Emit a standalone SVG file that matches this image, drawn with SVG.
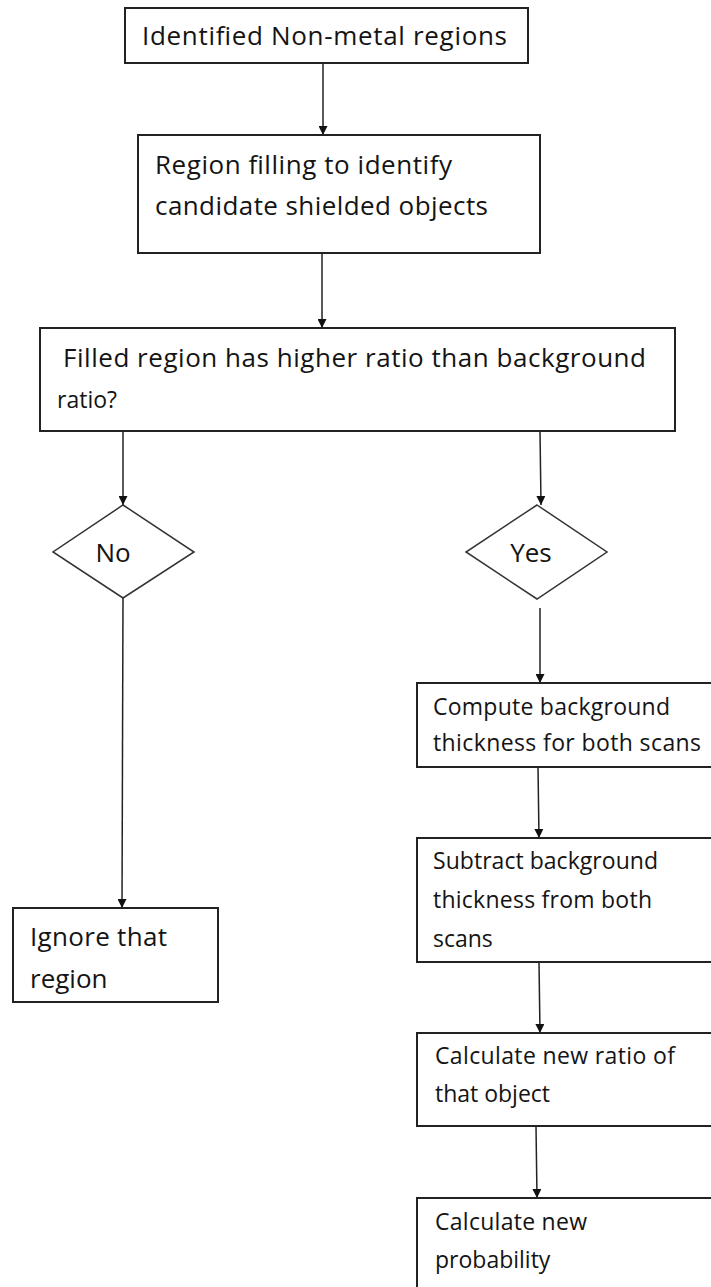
<svg xmlns="http://www.w3.org/2000/svg" width="711" height="1287" viewBox="0 0 711 1287">
  <style>
    .box { fill: #fff; stroke: #222; stroke-width: 2; }
    .dia { fill: #fff; stroke: #333; stroke-width: 1.5; }
    .lbl { font-family: "Open Sans", Lato, "Liberation Sans", sans-serif; font-size: 23px; fill: #141414; }
    .big { font-size: 26px; }
    .wire { stroke: #222; stroke-width: 1.5; fill: none; }
  </style>
  <defs>
    <marker id="arr" viewBox="0 0 10 10" refX="10" refY="5" markerWidth="9" markerHeight="9" markerUnits="userSpaceOnUse" orient="auto">
      <path d="M0,0 L10,5 L0,10 Z" fill="#111"/>
    </marker>
  </defs>
  <rect width="711" height="1287" fill="#fff"/>

  <g id="connectors">
    <line class="wire" x1="323" y1="63" x2="323" y2="135" marker-end="url(#arr)"/>
    <line class="wire" x1="322" y1="253" x2="322" y2="328" marker-end="url(#arr)"/>
    <line class="wire" x1="123" y1="431" x2="123" y2="505" marker-end="url(#arr)"/>
    <line class="wire" x1="540" y1="431" x2="541" y2="505" marker-end="url(#arr)"/>
    <line class="wire" x1="123" y1="598" x2="122" y2="908" marker-end="url(#arr)"/>
    <line class="wire" x1="540" y1="608" x2="540" y2="683" marker-end="url(#arr)"/>
    <line class="wire" x1="538" y1="767" x2="539" y2="838" marker-end="url(#arr)"/>
    <line class="wire" x1="539" y1="962" x2="540" y2="1033" marker-end="url(#arr)"/>
    <line class="wire" x1="536" y1="1126" x2="537" y2="1198" marker-end="url(#arr)"/>
  </g>

  <g id="n-identified">
    <rect class="box" x="125" y="8" width="403" height="55"/>
    <text class="lbl big" x="142" y="45" textLength="365" lengthAdjust="spacing">Identified Non-metal  regions</text>
  </g>

  <g id="n-region-filling">
    <rect class="box" x="138" y="135" width="402" height="118"/>
    <text class="lbl big" x="155" y="174" textLength="297" lengthAdjust="spacing">Region filling to identify</text>
    <text class="lbl big" x="155" y="215" textLength="333" lengthAdjust="spacing">candidate shielded objects</text>
  </g>

  <g id="n-ratio-check">
    <rect class="box" x="40" y="328" width="635" height="103"/>
    <text class="lbl big" x="63" y="367" textLength="583" lengthAdjust="spacing">Filled region has higher ratio than background</text>
    <text class="lbl" x="57" y="408">ratio?</text>
  </g>

  <g id="n-no">
    <polygon class="dia" points="123,505 194,552 123,598 53,552"/>
    <text class="lbl big" x="113" y="562" text-anchor="middle">No</text>
  </g>

  <g id="n-yes">
    <polygon class="dia" points="537,505 607,552 537,599 466,552"/>
    <text class="lbl big" x="531" y="562" text-anchor="middle">Yes</text>
  </g>

  <g id="n-ignore">
    <rect class="box" x="13" y="908" width="205" height="94"/>
    <text class="lbl big" x="30" y="946" textLength="137" lengthAdjust="spacing">Ignore that</text>
    <text class="lbl big" x="30" y="988">region</text>
  </g>

  <g id="n-compute">
    <rect class="box" x="417" y="683" width="310" height="84"/>
    <text class="lbl" x="433" y="715" textLength="237" lengthAdjust="spacing">Compute background</text>
    <text class="lbl" x="433" y="751" textLength="268" lengthAdjust="spacing">thickness for both scans</text>
  </g>

  <g id="n-subtract">
    <rect class="box" x="417" y="838" width="310" height="124"/>
    <text class="lbl" x="433" y="869" textLength="225" lengthAdjust="spacing">Subtract background</text>
    <text class="lbl" x="433" y="908" textLength="219" lengthAdjust="spacing">thickness from  both</text>
    <text class="lbl" x="433" y="947">scans</text>
  </g>

  <g id="n-new-ratio">
    <rect class="box" x="417" y="1033" width="310" height="93"/>
    <text class="lbl" x="435" y="1064" textLength="240" lengthAdjust="spacing">Calculate new ratio of</text>
    <text class="lbl" x="435" y="1102" textLength="115" lengthAdjust="spacing">that object</text>
  </g>

  <g id="n-probability">
    <rect class="box" x="417" y="1198" width="310" height="100"/>
    <text class="lbl" x="435" y="1230" textLength="152" lengthAdjust="spacing">Calculate new</text>
    <text class="lbl" x="435" y="1268">probability</text>
  </g>
</svg>
